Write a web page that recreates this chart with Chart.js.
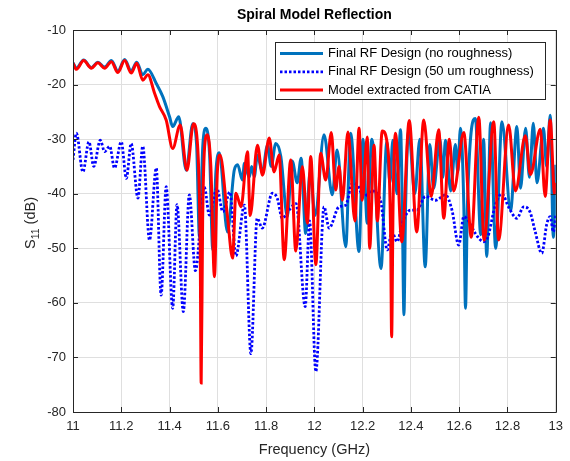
<!DOCTYPE html>
<html>
<head>
<meta charset="utf-8">
<title>Spiral Model Reflection</title>
<script src="https://cdn.jsdelivr.net/npm/chart.js@4.4.0/dist/chart.umd.min.js"></script>
<style>
  body { margin:0; background:#fff; }
  #wrap { width:570px; height:461px; }
</style>
</head>
<body>
<div id="wrap"><canvas id="myChart" width="570" height="461"></canvas></div>
<script>
// Final RF Design (no roughness)
var blueFreq = [11.000,11.014,11.044,11.076,11.103,11.131,11.159,11.186,11.214,11.241,11.264,11.289,11.310,11.345,11.372,11.400,11.413,11.438,11.469,11.496,
  11.512,11.524,11.538,11.551,11.566,11.579,11.592,11.606,11.640,11.668,11.682,11.702,11.710,11.730,11.740,11.751,11.764,11.784,11.806,11.821,11.840,11.861,11.888,11.908,11.929,11.945,11.964,11.982,12.003,
  12.040,12.074,12.094,12.130,12.150,12.185,12.201,12.219,12.238,12.276,12.300,12.313,12.325,12.342,12.357,12.364,12.371,12.378,12.391,12.416,12.437,12.459,12.478,12.494,12.520,12.532,12.543,12.565,12.584,12.594,12.605,
  12.619,12.626,12.634,12.667,12.689,12.701,12.714,12.730,12.751,12.777,12.813,12.839,12.854,12.875,12.891,12.907,12.922,12.949,12.962,12.977,12.990,13.000];
var blueDb = [-16.0,-17.0,-15.5,-16.9,-15.9,-16.8,-15.6,-17.5,-15.4,-17.5,-15.9,-18.2,-17.2,-19.8,-22.2,-25.9,-27.7,-25.9,-35.7,-27.2,
  -31,-48.0,-31,-28.0,-33,-50.3,-36,-32.5,-47.0,-35.7,-34.7,-37.5,-34.4,-37.0,-35.0,-36.9,-32.9,-36.0,-31.1,-35.0,-30.8,-33.2,-44.2,-34.0,-38.0,-33.5,-47.3,-36.0,-44.0,
  -29.2,-40.2,-32.0,-49.7,-28.9,-50.6,-30.0,-45.4,-30.0,-53.7,-30.5,-38.0,-30.2,-40.0,-28.3,-42,-62.2,-42,-28.5,-40.0,-30.0,-53.4,-31.0,-39.0,-30.0,-37.0,-30.2,-39.5,-31.0,-36.0,-28.0,
  -42,-61.0,-42,-26.2,-47.5,-30.0,-51.5,-27.0,-50.0,-26.8,-43.0,-27.7,-39.0,-28.0,-37.0,-27.1,-38.0,-28.0,-35.0,-25.6,-48.0,-34.7];

// Final RF Design (50 um roughness)
var roughFreq = [11.000,11.014,11.041,11.066,11.086,11.113,11.131,11.152,11.172,11.200,11.221,11.241,11.269,11.289,11.317,11.345,11.365,11.386,11.413,11.431,11.457,11.482,11.507,
  11.544,11.565,11.596,11.621,11.650,11.675,11.710,11.737,11.763,11.784,11.826,11.846,11.867,11.895,11.924,11.962,11.980,12.006,12.040,12.061,12.102,12.130,12.157,12.176,12.205,12.238,
  12.274,12.302,12.321,12.343,12.364,12.398,12.424,12.460,12.502,12.543,12.570,12.598,12.619,12.639,12.667,12.701,12.718,12.750,12.777,12.805,12.839,12.867,12.894,12.915,12.942,12.963,12.977,12.990,13.000];
var roughDb = [-33.8,-28.9,-36.0,-30.5,-35.0,-30.2,-32.3,-31.3,-35.3,-30.5,-37.2,-30.8,-40.8,-31.3,-48.5,-35.3,-58.6,-38.7,-61.0,-42.0,-61.6,-40.2,-54.1,
  -38.8,-43.9,-39.0,-43.3,-39.7,-51.4,-42.1,-69.3,-44.5,-46.3,-39.9,-40.8,-44.5,-43.0,-41.8,-60.7,-45.0,-72.6,-42.4,-46.3,-42.4,-42.1,-38.1,-38.3,-40.5,-39.5,
  -41.2,-50.3,-47.0,-48.8,-45.4,-43.0,-43.0,-40.5,-41.2,-40.2,-43.0,-49.4,-44.2,-45.0,-47.3,-48.8,-48.0,-42.0,-40.0,-42.5,-44.5,-42.4,-43.4,-47.0,-50.9,-45.5,-44.2,-47.0,-44.0];

// Model extracted from CATIA
var catiaFreq = [11.000,11.014,11.044,11.076,11.103,11.131,11.159,11.186,11.214,11.241,11.264,11.289,11.310,11.338,11.358,11.386,11.413,11.444,11.472,11.499,
  11.515,11.527,11.531,11.537,11.547,11.557,11.571,11.586,11.598,11.609,11.640,11.661,11.675,11.696,11.723,11.734,11.764,11.785,11.813,11.833,11.854,11.875,11.902,11.923,11.950,11.971,11.985,12.006,
  12.026,12.047,12.070,12.088,12.102,12.116,12.139,12.168,12.185,12.198,12.219,12.229,12.247,12.261,12.281,12.305,12.316,12.320,12.326,12.336,12.362,12.393,12.424,12.453,12.484,12.515,12.536,12.559,12.577,
  12.619,12.650,12.681,12.703,12.743,12.763,12.805,12.833,12.874,12.895,12.936,12.956,12.977,12.995,13.000];
var catiaDb = [-16.1,-17.2,-15.6,-17.0,-16.0,-17.0,-15.8,-17.8,-15.6,-17.9,-16.1,-19.2,-18.2,-21.6,-24.0,-26.5,-31.7,-27.4,-35.7,-27.2,
  -30.5,-50,-74.7,-45,-30.5,-29.2,-35,-55.2,-36,-32.9,-44.2,-51.8,-39.9,-42.4,-32.3,-44.0,-31.1,-36.6,-29.8,-36.0,-32.9,-52.1,-33.8,-50.5,-35.0,-45.4,-33.2,-53.0,
  -32.6,-37.5,-28.8,-39.3,-35.0,-41.2,-28.7,-45.0,-28.0,-41.2,-29.6,-50.0,-31.1,-45.0,-28.5,-32,-48,-66.2,-42,-28.9,-48.8,-26.6,-47.0,-26.5,-40.5,-28.3,-44.5,-30.0,-39.5,
  -28.8,-48.0,-26.0,-48.5,-26.8,-48.5,-27.4,-39.5,-29.4,-36.5,-28.2,-40.5,-26.5,-40.0,-38.0];

var xTicks = [11, 11.2, 11.4, 11.6, 11.8, 12, 12.2, 12.4, 12.6, 12.8, 13];
var yTicks = [-80, -70, -60, -50, -40, -30, -20, -10];

function pts(xs, ys) {
  var out = [];
  for (var i = 0; i < xs.length; i++) out.push({x: xs[i], y: ys[i]});
  return out;
}

var AXIS = '#262626';
var FONT = '"Liberation Sans", Arial, Helvetica, sans-serif';

// MATLAB style decorations: box, inward ticks, title, labels, legend
var matlabLook = {
  id: 'matlabLook',
  afterDraw: function(chart) {
    var ctx = chart.ctx, a = chart.chartArea;
    var sx = chart.scales.x, sy = chart.scales.y;
    ctx.save();
    ctx.strokeStyle = AXIS;
    ctx.lineWidth = 1;
    ctx.beginPath();
    ctx.rect(Math.round(a.left) + 0.5, Math.round(a.top) + 0.5, Math.round(a.right - a.left), Math.round(a.bottom - a.top));
    ctx.stroke();
    // inward ticks
    ctx.beginPath();
    xTicks.forEach(function(t) {
      var px = Math.round(sx.getPixelForValue(t)) + 0.5;
      ctx.moveTo(px, a.bottom); ctx.lineTo(px, a.bottom - 5);
      ctx.moveTo(px, a.top); ctx.lineTo(px, a.top + 5);
    });
    yTicks.forEach(function(t) {
      var py = Math.round(sy.getPixelForValue(t)) + 0.5;
      ctx.moveTo(a.left, py); ctx.lineTo(a.left + 5, py);
      ctx.moveTo(a.right, py); ctx.lineTo(a.right - 5, py);
    });
    ctx.stroke();

    // title
    ctx.fillStyle = '#000';
    ctx.font = 'bold 14px ' + FONT;
    ctx.textAlign = 'center';
    ctx.textBaseline = 'middle';
    ctx.fillText('Spiral Model Reflection', (a.left + a.right) / 2, 15);

    // x label
    ctx.fillStyle = AXIS;
    ctx.font = '14.5px ' + FONT;
    ctx.fillText('Frequency (GHz)', (a.left + a.right) / 2, 450);

    // y label with subscript
    ctx.save();
    ctx.translate(31, (a.top + a.bottom) / 2 + 2);
    ctx.rotate(-Math.PI / 2);
    ctx.textAlign = 'left';
    ctx.textBaseline = 'middle';
    var big = '14.5px ' + FONT, small = '10.5px ' + FONT;
    ctx.font = big; var wS = ctx.measureText('S').width;
    var wR = ctx.measureText(' (dB)').width;
    ctx.font = small; var w11 = ctx.measureText('11').width;
    var x0 = -(wS + w11 + wR) / 2;
    ctx.font = big; ctx.fillText('S', x0, 0);
    ctx.font = small; ctx.fillText('11', x0 + wS, 5);
    ctx.font = big; ctx.fillText(' (dB)', x0 + wS + w11, 0);
    ctx.restore();

    // legend
    var lx = 275, ly = 42, lw = 270, lh = 57;
    ctx.fillStyle = '#fff';
    ctx.fillRect(lx, ly, lw, lh);
    ctx.strokeStyle = AXIS;
    ctx.strokeRect(lx + 0.5, ly + 0.5, lw, lh);
    ctx.font = '13px ' + FONT;
    ctx.textAlign = 'left';
    ctx.textBaseline = 'middle';
    chart.data.datasets.forEach(function(ds, i) {
      var yy = ly + 11.5 + i * 18.3;
      ctx.save();
      ctx.strokeStyle = ds.borderColor;
      ctx.lineWidth = ds.borderWidth;
      ctx.setLineDash(ds.borderDash || []);
      ctx.beginPath();
      ctx.moveTo(lx + 5, yy); ctx.lineTo(lx + 48, yy);
      ctx.stroke();
      ctx.restore();
      ctx.fillStyle = '#000';
      ctx.fillText(ds.label, lx + 53, yy);
    });
    ctx.restore();
  }
};

var ctx = document.getElementById('myChart').getContext('2d');
var chart = new Chart(ctx, {
  type: 'line',
  data: {
    datasets: [{
      label: 'Final RF Design (no roughness)',
      data: pts(blueFreq, blueDb),
      borderColor: '#0072BD',
      borderWidth: 3,
      pointRadius: 0,
      cubicInterpolationMode: 'monotone',
      order: 3
    }, {
      label: 'Final RF Design (50 um roughness)',
      data: pts(roughFreq, roughDb),
      borderColor: '#0000FF',
      borderWidth: 2.8,
      borderDash: [2.5, 2],
      pointRadius: 0,
      cubicInterpolationMode: 'monotone',
      order: 2
    }, {
      label: 'Model extracted from CATIA',
      data: pts(catiaFreq, catiaDb),
      borderColor: '#FF0000',
      borderWidth: 3,
      pointRadius: 0,
      cubicInterpolationMode: 'monotone',
      order: 1
    }]
  },
  options: {
    responsive: false,
    devicePixelRatio: 1,
    animation: false,
    layout: { padding: { top: 30, right: 13, left: 0, bottom: 0 } },
    plugins: { legend: { display: false }, tooltip: { enabled: false }, title: { display: false } },
    scales: {
      x: {
        type: 'linear', min: 11, max: 13,
        afterFit: function(s) { s.height = 49; },
        afterBuildTicks: function(s) { s.ticks = xTicks.map(function(v) { return {value: v}; }); },
        ticks: {
          color: AXIS, padding: 7, maxRotation: 0, autoSkip: false,
          font: { family: FONT, size: 13 },
          callback: function(v) { return String(Number(v.toFixed(1))); }
        },
        grid: { color: '#dfdfdf', drawTicks: false },
        border: { display: false }
      },
      y: {
        type: 'linear', min: -80, max: -10,
        afterFit: function(s) { s.width = 73; },
        afterBuildTicks: function(s) { s.ticks = yTicks.map(function(v) { return {value: v}; }); },
        ticks: {
          color: AXIS, padding: 7, autoSkip: false,
          font: { family: FONT, size: 13 },
          callback: function(v) { return String(v); }
        },
        grid: { color: '#dfdfdf', drawTicks: false },
        border: { display: false }
      }
    }
  },
  plugins: [matlabLook]
});
</script>
</body>
</html>
